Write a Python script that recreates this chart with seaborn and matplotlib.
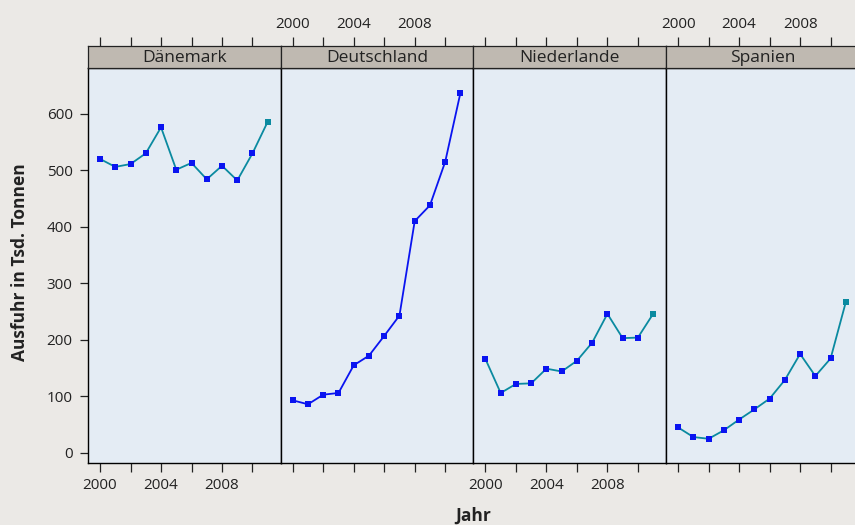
import matplotlib
matplotlib.use("Agg")
import matplotlib.pyplot as plt
import seaborn as sns
import pandas as pd

# ---- data ----
jahre = list(range(2000, 2012))
laender = ["Dänemark", "Deutschland", "Niederlande", "Spanien"]
daenemark = [520, 506, 511, 530, 576, 501, 513, 484, 508, 482, 530, 586]
deutschland = [93, 86, 103, 106, 155, 172, 207, 243, 410, 438, 515, 637]
niederlande = [166, 106, 122, 123, 149, 144, 163, 195, 246, 203, 204, 246]
spanien = [45, 28, 25, 40, 59, 77, 96, 129, 175, 136, 167, 267]
ytick_vals = [0, 100, 200, 300, 400, 500, 600]
xtick_vals = [2000, 2002, 2004, 2006, 2008, 2010]
xtick_labels = ["2000", "", "2004", "", "2008", ""]

werte = {"Dänemark": daenemark, "Deutschland": deutschland,
         "Niederlande": niederlande, "Spanien": spanien}
df = pd.concat([pd.DataFrame({"Land": land, "Jahr": jahre, "Ausfuhr": werte[land]})
                for land in laender], ignore_index=True)

# ---- style ----
sns.set_style("white")
plt.rcParams["font.family"] = ["Open Sans", "DejaVu Sans"]

FIG_BG = "#EBE9E6"
PANEL_BG = "#E4ECF4"
STRIP_BG = "#BFB9B1"
TEAL = "#0A8AA0"
BLUE = "#0A14F0"
TXT = "#222222"

W, H = 855, 525
fig = plt.figure(figsize=(W / 100, H / 100), dpi=100, facecolor=FIG_BG)

def fx(px):
    return px / W

def fy(py):
    return 1 - py / H

panel_w = 192.7
x0 = 88.0
y_top, y_bot = 68.3, 462.5
strip_top = 45.5

for i, land in enumerate(laender):
    left = x0 + i * panel_w
    ax = fig.add_axes([fx(left), fy(y_bot), panel_w / W, (y_bot - y_top) / H])
    ax.set_facecolor(PANEL_BG)
    sub = df[df["Land"] == land]
    line_col = BLUE if land == "Deutschland" else TEAL
    sns.lineplot(data=sub, x="Jahr", y="Ausfuhr", ax=ax, color=line_col, lw=1.3, zorder=2)
    sns.scatterplot(data=sub.iloc[:-1], x="Jahr", y="Ausfuhr", ax=ax, color=BLUE,
                    marker="s", s=13, linewidth=0, zorder=3)
    sns.scatterplot(data=sub.iloc[-1:], x="Jahr", y="Ausfuhr", ax=ax,
                    color=BLUE if land == "Deutschland" else TEAL,
                    marker="s", s=13, linewidth=0, zorder=3)
    ax.set_xlim(1999.21, 2011.85)
    ax.set_ylim(-17, 680.4)
    ax.set_xlabel("")
    ax.set_ylabel("")
    for sp in ax.spines.values():
        sp.set_color("black")
        sp.set_linewidth(1.0)
    ax.set_xticks(xtick_vals)
    if i in (0, 2):
        ax.set_xticklabels(xtick_labels)
    else:
        ax.set_xticklabels([""] * len(xtick_vals))
    ax.tick_params(axis="x", direction="out", length=6.5, width=0.9, color=TXT,
                   labelsize=11, pad=5, labelcolor=TXT, bottom=True)
    if i == 0:
        ax.set_yticks(ytick_vals)
        ax.set_yticklabels([str(v) for v in ytick_vals])
        ax.tick_params(axis="y", direction="out", length=6, width=0.9, color=TXT,
                       labelsize=11, pad=5, labelcolor=TXT, left=True)
    else:
        ax.set_yticks([])

    # strip
    sax = fig.add_axes([fx(left), fy(y_top), panel_w / W, (y_top - strip_top) / H])
    sax.set_facecolor(STRIP_BG)
    sax.set_xlim(1999.21, 2011.85)
    sax.set_ylim(0, 1)
    sax.set_yticks([])
    sax.set_xticks(xtick_vals)
    sax.xaxis.set_ticks_position("top")
    if i in (1, 3):
        sax.set_xticklabels(xtick_labels)
    else:
        sax.set_xticklabels([""] * len(xtick_vals))
    sax.tick_params(axis="x", direction="out", length=6.5, width=0.9, color=TXT,
                    labelsize=11, pad=3, labelcolor=TXT, top=True, bottom=False,
                    labeltop=True, labelbottom=False)
    for sp in sax.spines.values():
        sp.set_color("#222222")
        sp.set_linewidth(0.9)
    sax.text(0.5, 0.45, land, transform=sax.transAxes, ha="center", va="center",
             fontsize=12.5, color=TXT)

fig.text(fx(20), fy(262), "Ausfuhr in Tsd. Tonnen", rotation=90, ha="center",
         va="center", fontsize=12.5, fontweight="bold", color=TXT)
fig.text(fx(473), fy(516), "Jahr", ha="center", va="center", fontsize=12.5,
         fontweight="bold", color=TXT)

fig.savefig("out.png", dpi=100, facecolor=FIG_BG)
